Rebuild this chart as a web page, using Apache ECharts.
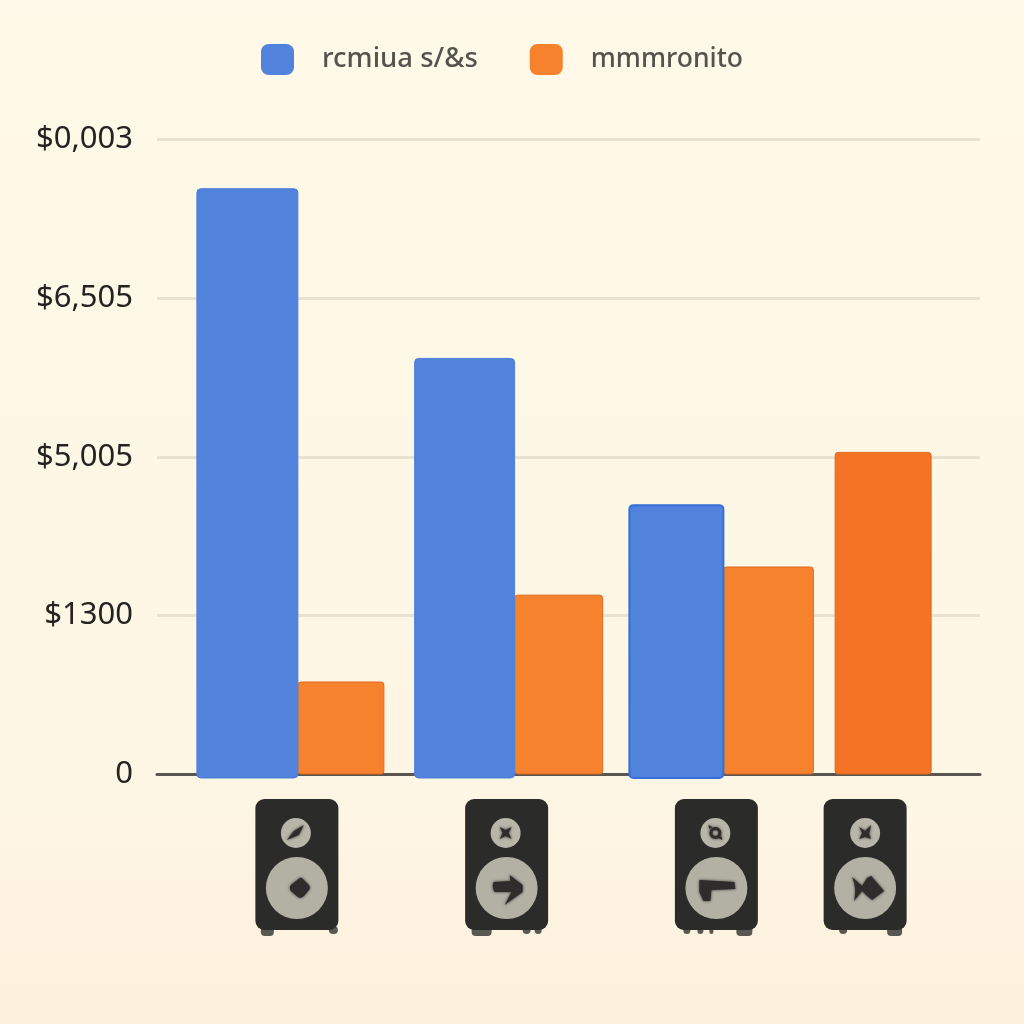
<!DOCTYPE html>
<html>
<head>
<meta charset="utf-8">
<style>
  html, body { margin: 0; padding: 0; }
  #chart { width: 1024px; height: 1024px; }
</style>
<script src="https://cdn.jsdelivr.net/npm/echarts@6/dist/echarts.min.js"></script>
</head>
<body>
<div id="chart"></div>
<script>
// values
const categories = ['Speaker A', 'Speaker B', 'Speaker C', 'Speaker D'];
const seriesNames = ['rcmiua s/&s', 'mmmronito'];
const blueValues = [7380, 5240, 3390, null];
const orangeValues = [1160, 2255, 2610, 4055];
const tickLabels = ['0', '$1300', '$5,005', '$6,505', '$0,003'];

// layout of the uneven bars, in pixels from each category centre
const splitNudge = [38, 49, 52, -42];
const blueWidths = [101, 100, 94, 0];
const orangeWidths = [86, 88, 90, 96];
const speakerNudge = [37, 41, 45, -12];

// dark shapes on the speaker cones, relative to the cone centre
const tweeterGlyphs = [
  'M-9 7 L-2 -2 L8 -8 L3 2 Z',
  'M-6 -6 L0 -3 L6 -6 L3 0 L6 6 L0 3 L-6 6 L-3 0 Z',
  'M-6 0 A6 6 0 1 1 6 0 A6 6 0 1 1 -6 0 Z M-3 0 A3 3 0 1 0 3 0 A3 3 0 1 0 -3 0 Z M-7 -8 L-3 -6 L-6 -4 Z M7 7 L3 5 L6 3 Z',
  'M-6 -6 L0 -2 L6 -8 L4 1 L6 6 L0 4 L-6 6 L-3 0 Z'
];
const wooferGlyphs = [
  'M3 -10 Q4 -11 6 -9 L12 -3 Q14 0 12 2 L7 8 Q4 11 1 9 L-6 3 Q-8 0 -6 -3 Z',
  'M-13 -6 L4 -7 L3 -13 L16 -3 L16 4 L-2 17 L5 4 L-12 4 Q-15 -1 -13 -6 Z',
  'M-18 -8 L17 -6 L18 1 L-6 2 L-7 13 L-14 13 L-18 4 Z',
  'M-16 -11 L-6 -2 L-1 -10 L3 -12 L16 3 L4 12 L-1 8 L-6 3 L-14 13 Q-11 0 -16 -11 Z'
];
const tweeterCentres = [-1, -1, -1, 0];
const wooferGlyphCentres = [0, 0, 1, 3];
const feet = [
  [[-36, 13], [32, 9]],
  [[-35, 20], [16, 8], [28, 7]],
  [[-33, 7], [-19, 6], [-7, 4], [20, 16]],
  [[-26, 8], [22, 15]]
];

const chart = echarts.init(document.getElementById('chart'));

function blueBar(params, api) {
  const i = params.dataIndex;
  const value = api.value(1);
  if (value === null || isNaN(value)) return;
  const top = api.coord([i, value]);
  const base = api.coord([i, 0]);
  const right = top[0] + splitNudge[i];
  return {
    type: 'rect',
    shape: { x: right - blueWidths[i], y: top[1], width: blueWidths[i], height: base[1] - top[1] + 4, r: 4 },
    style: { fill: '#5183dc', stroke: i === 2 ? '#3570d8' : '#4f80da', lineWidth: i === 2 ? 2 : 1 }
  };
}

function orangeBar(params, api) {
  const i = params.dataIndex;
  const top = api.coord([i, api.value(1)]);
  const base = api.coord([i, 0]);
  return {
    type: 'rect',
    shape: { x: top[0] + splitNudge[i], y: top[1], width: orangeWidths[i], height: base[1] - top[1], r: 3 },
    style: { fill: i === 3 ? '#f47423' : '#f6822d', stroke: '#dd6a20', lineWidth: 1 }
  };
}

function speaker(params, api) {
  const i = params.dataIndex;
  const base = api.coord([i, 0]);
  const cx = base[0] + speakerNudge[i];
  const children = [];
  feet[i].forEach(function (f) {
    children.push({ type: 'rect', shape: { x: f[0], y: 127, width: f[1], height: f[1] > 12 ? 10 : 8, r: 4 }, style: { fill: '#595751' } });
  });
  const glyphStyle = { fill: '#2e2d2b', shadowBlur: 3, shadowColor: '#2e2d2b' };
  children.push(
    { type: 'rect', shape: { x: -41.5, y: 0, width: 83, height: 131, r: 9 }, style: { fill: '#2b2b2a' } },
    { type: 'circle', shape: { cx: tweeterCentres[i], cy: 34, r: 15 }, style: { fill: '#b8b5a9' } },
    { type: 'circle', shape: { cx: 0, cy: 89, r: 31 }, style: { fill: '#b3b0a4' } },
    { type: 'path', x: tweeterCentres[i], y: 34, shape: { pathData: tweeterGlyphs[i] }, style: glyphStyle },
    { type: 'path', x: wooferGlyphCentres[i], y: 89, shape: { pathData: wooferGlyphs[i] }, style: glyphStyle }
  );
  return { type: 'group', x: cx, y: base[1] + 25, children: children };
}

chart.setOption({
  animation: false,
  backgroundColor: {
    type: 'linear', x: 0, y: 0, x2: 0, y2: 1,
    colorStops: [
      { offset: 0, color: '#fef9e8' },
      { offset: 0.78, color: '#fef6e4' },
      { offset: 1, color: '#fdf0dc' }
    ]
  },
  textStyle: { fontFamily: '"Noto Sans", sans-serif' },
  legend: {
    data: [
      { name: seriesNames[0], textStyle: { fontSize: 27.5 } },
      { name: seriesNames[1], textStyle: { fontSize: 26.5 } }
    ],
    left: 261,
    top: 44,
    padding: 0,
    itemWidth: 33,
    itemHeight: 31,
    itemGap: 52,
    icon: 'roundRect',
    textStyle: { color: '#55534e', fontWeight: 500, padding: [4, 0, 0, 23] }
  },
  grid: { left: 157, right: 44, top: 139.5, height: 634.5 },
  xAxis: {
    type: 'category',
    data: categories,
    axisTick: { show: false },
    axisLabel: { show: false },
    axisLine: { lineStyle: { color: '#5a5753', width: 3 } }
  },
  yAxis: {
    type: 'value',
    min: 0,
    max: 8000,
    interval: 2000,
    axisLine: { show: false },
    axisTick: { show: false },
    axisLabel: {
      margin: 24,
      fontSize: 31,
      color: '#232321',
      formatter: function (v) { return tickLabels[v / 2000]; }
    },
    splitLine: { lineStyle: { color: '#e9e2d0', width: 3 } }
  },
  series: [
    {
      name: seriesNames[0],
      type: 'custom',
      renderItem: blueBar,
      itemStyle: { color: '#5183dc' },
      encode: { x: 0, y: 1 },
      data: blueValues.map(function (v, i) { return [i, v]; }),
      z: 4
    },
    {
      name: seriesNames[1],
      type: 'custom',
      renderItem: orangeBar,
      itemStyle: { color: '#f6822d' },
      encode: { x: 0, y: 1 },
      data: orangeValues.map(function (v, i) { return [i, v]; }),
      z: 3
    },
    {
      type: 'custom',
      renderItem: speaker,
      silent: true,
      encode: { x: 0, y: 1 },
      data: categories.map(function (c, i) { return [i, 0]; }),
      z: 3
    }
  ]
});
</script>
</body>
</html>
